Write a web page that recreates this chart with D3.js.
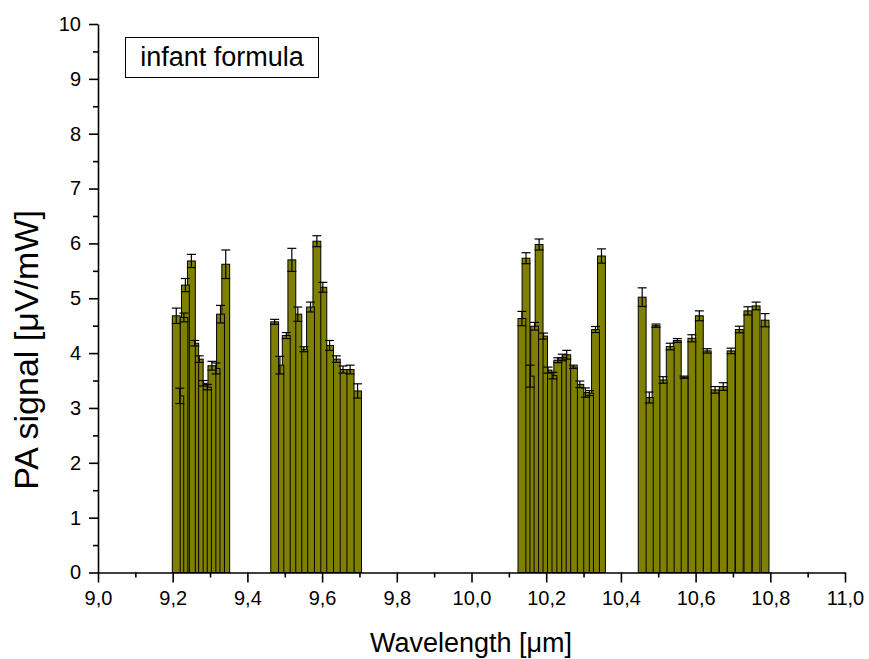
<!DOCTYPE html>
<html>
<head>
<meta charset="utf-8">
<script src="https://cdn.jsdelivr.net/npm/d3@7"></script>
<style>
    html, body { margin: 0; padding: 0; background: #fff; }
    svg { display: block; font-family: "Liberation Sans", Arial, sans-serif; }
</style>
</head>
<body>
<svg id="chart" width="869" height="659"></svg>
<script>
// ============================================================================
// DATA (CO2 laser lines, PA signal)
// ============================================================================

// laser line wavelengths [µm], four branches
const wavelength = [
    9.2095, 9.219, 9.230, 9.234, 9.250, 9.259, 9.271, 9.282, 9.293, 9.305, 9.316, 9.328, 9.342,
    9.473, 9.487, 9.504, 9.519, 9.535, 9.551, 9.569, 9.586, 9.602, 9.620, 9.638, 9.656, 9.675, 9.695,
    10.135, 10.146, 10.157, 10.169, 10.181, 10.193, 10.205, 10.218, 10.231, 10.243, 10.255, 10.273,
    10.290, 10.305, 10.316, 10.332, 10.348,
    10.457, 10.476, 10.494, 10.513, 10.532, 10.551, 10.569, 10.590, 10.610, 10.631, 10.652, 10.674,
    10.695, 10.717, 10.740, 10.762, 10.786
];

// PA signal [µV/mW]
const signal = [
    4.68, 3.22, 4.65, 5.24, 5.68, 4.18, 3.89, 3.45, 3.38, 3.77, 3.72, 4.71, 5.62,
    4.57, 3.78, 4.32, 5.70, 4.71, 4.07, 4.84, 6.04, 5.20, 4.14, 3.89, 3.70, 3.70, 3.31,
    4.63, 5.73, 3.58, 4.49, 5.98, 4.31, 3.69, 3.59, 3.87, 3.92, 3.97, 3.75,
    3.43, 3.28, 3.27, 4.43, 5.77,
    5.02, 3.19, 4.50, 3.51, 4.12, 4.23, 3.56, 4.27, 4.68, 4.04, 3.33, 3.39,
    4.04, 4.43, 4.77, 4.86, 4.60
];

// error of the PA signal (half height of the error bar)
const signalError = [
    0.14, 0.14, 0.08, 0.12, 0.12, 0.05, 0.06, 0.05, 0.05, 0.08, 0.10, 0.16, 0.26,
    0.045, 0.16, 0.055, 0.21, 0.13, 0.045, 0.09, 0.10, 0.09, 0.09, 0.06, 0.065, 0.08, 0.13,
    0.13, 0.10, 0.20, 0.07, 0.10, 0.055, 0.055, 0.06, 0.045, 0.06, 0.08, 0.03,
    0.06, 0.085, 0.045, 0.055, 0.13,
    0.17, 0.10, 0.03, 0.06, 0.06, 0.035, 0.02, 0.065, 0.09, 0.04, 0.06, 0.07,
    0.05, 0.06, 0.075, 0.07, 0.12
];

const xMajorTicks = [9.0, 9.2, 9.4, 9.6, 9.8, 10.0, 10.2, 10.4, 10.6, 10.8, 11.0];
const xMinorTicks = [9.1, 9.3, 9.5, 9.7, 9.9, 10.1, 10.3, 10.5, 10.7, 10.9];
const yMajorTicks = [0, 1, 2, 3, 4, 5, 6, 7, 8, 9, 10];
const yMinorTicks = [0.5, 1.5, 2.5, 3.5, 4.5, 5.5, 6.5, 7.5, 8.5, 9.5];

const legendLabel = "infant formula";
const xTitle = "Wavelength [\u03bcm]";
const yTitle = "PA signal [\u03bcV/mW]";

// ============================================================================
// LAYOUT
// ============================================================================

const BAR_WIDTH = 0.021;          // in µm
const BAR_COLOR = "#808000";
const CAP_HALF = 4.5;             // px

const svg = d3.select("#chart");

const x = d3.scaleLinear().domain([9.0, 11.0]).range([98, 845]);
const y = d3.scaleLinear().domain([0, 10]).range([572.5, 24]);

const bars = wavelength.map((w, i) => ({ w, v: signal[i], e: signalError[i] }));

// Origin drew the long wavelengths first, so shorter ones sit on top
const drawOrder = bars.slice().sort((a, b) => b.w - a.w);

const barGroup = svg.append("g").attr("class", "bars");

barGroup.selectAll("rect")
    .data(drawOrder)
    .join("rect")
    .attr("x", d => x(d.w - BAR_WIDTH / 2))
    .attr("width", d => x(d.w + BAR_WIDTH / 2) - x(d.w - BAR_WIDTH / 2))
    .attr("y", d => y(d.v))
    .attr("height", d => y(0) - y(d.v))
    .attr("fill", BAR_COLOR)
    .attr("stroke", "#000")
    .attr("stroke-width", 1);

// error bars on top of all columns
const errGroup = svg.append("g").attr("class", "error-bars")
    .attr("stroke", "#000")
    .attr("stroke-width", 1.2);

errGroup.selectAll("line.stem")
    .data(bars)
    .join("line")
    .attr("class", "stem")
    .attr("x1", d => x(d.w)).attr("x2", d => x(d.w))
    .attr("y1", d => y(d.v + d.e)).attr("y2", d => y(d.v - d.e));

["top", "bottom"].forEach(side => {
    errGroup.selectAll("line.cap-" + side)
        .data(bars)
        .join("line")
        .attr("class", "cap-" + side)
        .attr("x1", d => x(d.w) - CAP_HALF).attr("x2", d => x(d.w) + CAP_HALF)
        .attr("y1", d => y(side === "top" ? d.v + d.e : d.v - d.e))
        .attr("y2", d => y(side === "top" ? d.v + d.e : d.v - d.e));
});

// ============================================================================
// AXES
// ============================================================================

const commaFmt = d => d3.format(".1f")(d).replace(".", ",");

svg.append("g")
    .attr("transform", `translate(0,${y(0)})`)
    .call(d3.axisBottom(x).tickValues(xMajorTicks).tickSize(10).tickPadding(8)
        .tickFormat(commaFmt).tickSizeOuter(0));

svg.append("g")
    .attr("transform", `translate(0,${y(0)})`)
    .call(d3.axisBottom(x).tickValues(xMinorTicks).tickSize(5).tickFormat("").tickSizeOuter(0))
    .select(".domain").remove();

svg.append("g")
    .attr("transform", `translate(${x(9.0)},0)`)
    .call(d3.axisLeft(y).tickValues(yMajorTicks).tickSize(9).tickPadding(8)
        .tickFormat(d3.format("d")).tickSizeOuter(0));

svg.append("g")
    .attr("transform", `translate(${x(9.0)},0)`)
    .call(d3.axisLeft(y).tickValues(yMinorTicks).tickSize(5).tickFormat("").tickSizeOuter(0))
    .select(".domain").remove();

svg.selectAll(".domain, .tick line")
    .attr("stroke", "#000")
    .attr("stroke-width", 1.6);

svg.selectAll(".tick text")
    .attr("fill", "#000")
    .style("font-size", "20px")
    .style("font-family", "'Liberation Sans', Arial, sans-serif");

// axis titles
svg.append("text")
    .attr("x", 471)
    .attr("y", 652)
    .attr("text-anchor", "middle")
    .style("font-size", "27px")
    .text(xTitle);

svg.append("text")
    .attr("transform", "translate(38,350) rotate(-90)")
    .attr("text-anchor", "middle")
    .style("font-size", "34px")
    .text(yTitle);

// ============================================================================
// LEGEND BOX
// ============================================================================

const legend = svg.append("g").attr("class", "legend");

legend.append("rect")
    .attr("x", 125.5)
    .attr("y", 37.5)
    .attr("width", 193)
    .attr("height", 40)
    .attr("fill", "#fff")
    .attr("stroke", "#000")
    .attr("stroke-width", 1);

legend.append("text")
    .attr("x", 222)
    .attr("y", 66)
    .attr("text-anchor", "middle")
    .style("font-size", "27px")
    .text(legendLabel);
</script>
</body>
</html>
